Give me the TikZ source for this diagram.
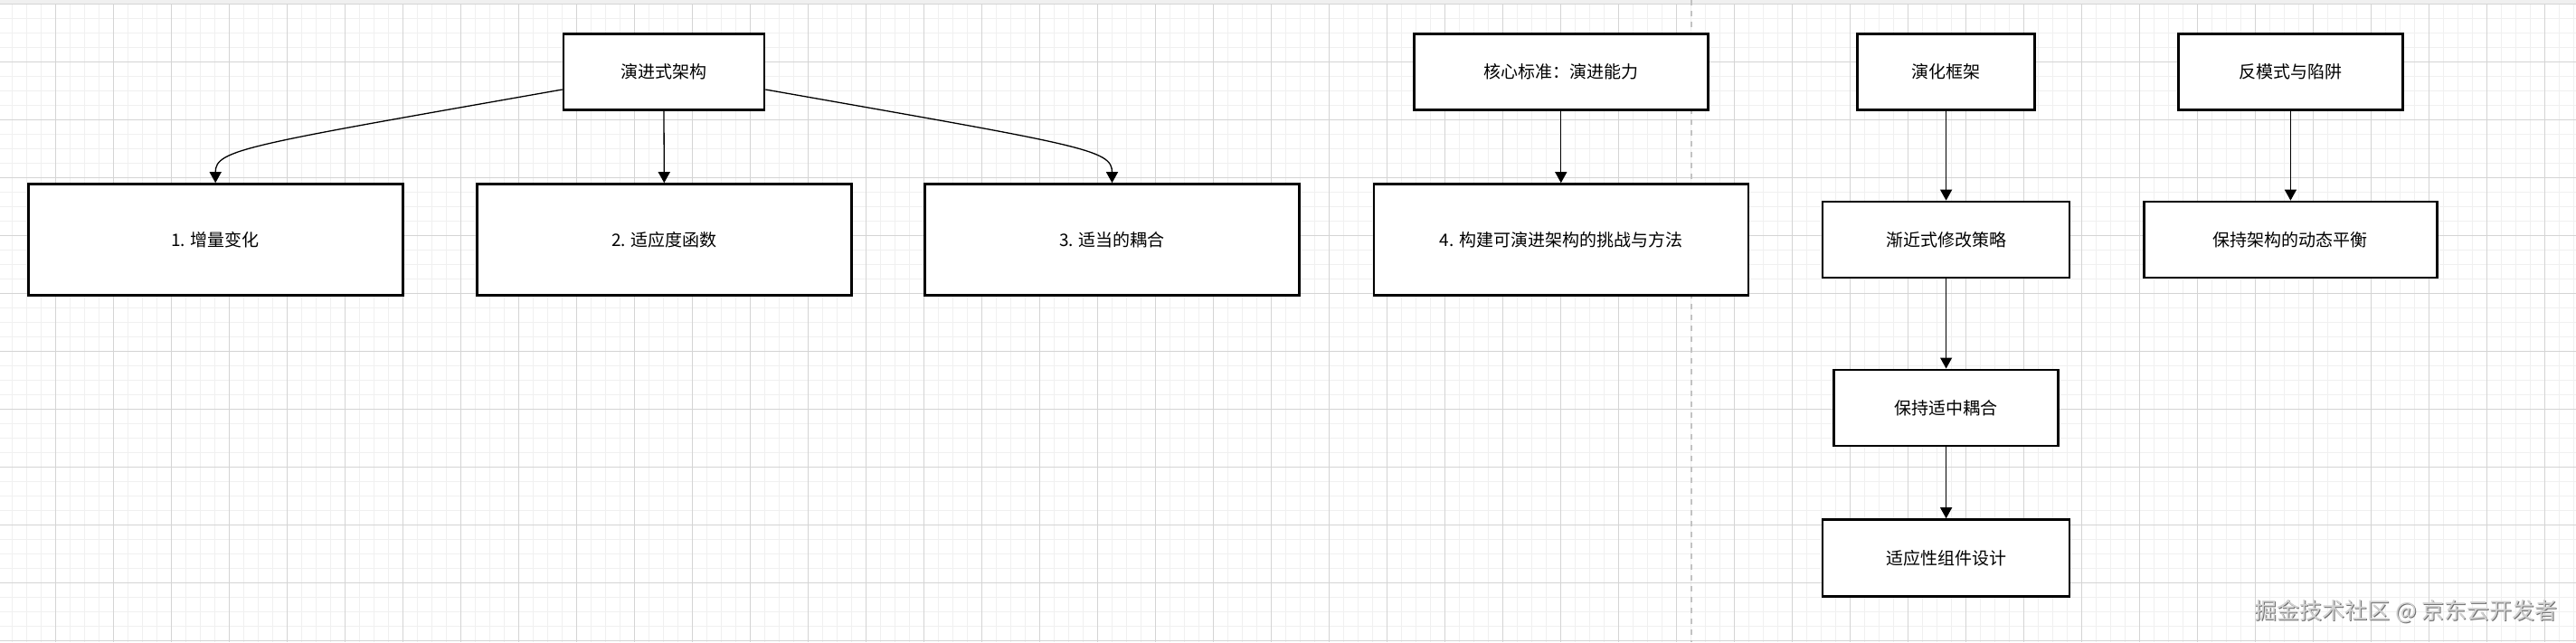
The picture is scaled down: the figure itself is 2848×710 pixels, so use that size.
\documentclass[tikz,border=0pt]{standalone}
\usepackage{fontspec}
\setmainfont{Noto Sans CJK SC}
\usetikzlibrary{arrows.meta}
\definecolor{gridmajor}{HTML}{D4D4D4}
\definecolor{gridminor}{HTML}{F0F0F0}
\definecolor{dashgray}{HTML}{C2C2C2}
\definecolor{wmlight}{HTML}{D2D2D2}
\definecolor{wmdark}{HTML}{707070}
\begin{document}
\begin{tikzpicture}[x=1pt,y=-1pt,
  box/.style={draw=black, line width=2.6pt, fill=white, rectangle, inner sep=0pt,
    minimum width=#1, minimum height=84pt, font=\fontsize{19}{23}\selectfont},
  bigbox/.style={box=414pt, minimum height=123pt},
  arr/.style={draw=black, line width=1.3pt, -{Triangle[width=13pt,length=12pt]}},
  gridmin/.style={draw=gridminor, line width=1pt},
  gridmaj/.style={draw=gridmajor, line width=1.2pt},
  sep/.style={draw=dashgray, line width=2pt, dash pattern=on 5.5pt off 6.5pt},
  wm/.style={font=\fontsize{25}{30}\selectfont, inner sep=0pt}
]
\useasboundingbox (0,0) rectangle (2848,710);
\fill[white] (0,0) rectangle (2848,710);
% grid
\foreach \i in {0,...,178} {\draw[gridmin] ({13.3+16*\i},0) -- ++(0,710);}
\foreach \j in {0,...,44} {\draw[gridmin] (0,{4.3+16*\j}) -- ++(2848,0);}
\foreach \i in {0,...,45} {\draw[gridmaj] ({-2.7+64*\i},0) -- ++(0,710);}
\foreach \j in {0,...,11} {\draw[gridmaj] (0,{4.3+64*\j}) -- ++(2848,0);}
\fill[gridminor] (0,0) rectangle (2848,3.5);
% separator
\coordinate (sepTop) at (1870,0);
\coordinate (sepBot) at (1870,710);
\draw[sep] (sepTop) -- (sepBot);

% nodes
\node[box=222pt] (top) at (734,79.5) {演进式架构};
\node[bigbox] (b1) at (238.2,265) {1. 增量变化};
\node[bigbox] (b2) at (734.3,265) {2. 适应度函数};
\node[bigbox] (b3) at (1229.5,265) {3. 适当的耦合};
\node[bigbox] (b4) at (1725.8,265) {4. 构建可演进架构的挑战与方法};
\node[box=325pt] (core) at (1725.8,79.5) {核心标准：演进能力};
\node[box=196pt] (evo) at (2151.6,79.5) {演化框架};
\node[box=248pt] (anti) at (2532.4,79.5) {反模式与陷阱};
\node[box=273pt] (s1) at (2151.6,265) {渐近式修改策略};
\node[box=324pt] (bal) at (2532.4,265) {保持架构的动态平衡};
\node[box=248pt] (s2) at (2151.6,450.8) {保持适中耦合};
\node[box=273pt, minimum height=85pt] (s3) at (2151.6,617) {适应性组件设计};

% edges
\draw[arr] ([yshift=-19.5pt]top.west) .. controls +(-351.7,62) and +(0,-37) .. (b1.north);
\draw[arr] ([yshift=-19.5pt]top.east) .. controls +(351.7,62) and +(0,-37) .. (b3.north);
\draw[arr] (top.south) -- (b2.north);
\draw[arr] (core.south) -- (b4.north);
\draw[arr] (evo.south) -- (s1.north);
\draw[arr] (s1.south) -- (s2.north);
\draw[arr] (s2.south) -- (s3.north);
\draw[arr] (anti.south) -- (bal.north);

% watermark
\node[wm, text=wmdark] (wmshadow) at (2661,677.2) {掘金技术社区 @ 京东云开发者};
\node[wm, text=wmlight] (wmark) at (2659.8,676) {掘金技术社区 @ 京东云开发者};
\end{tikzpicture}
\end{document}
